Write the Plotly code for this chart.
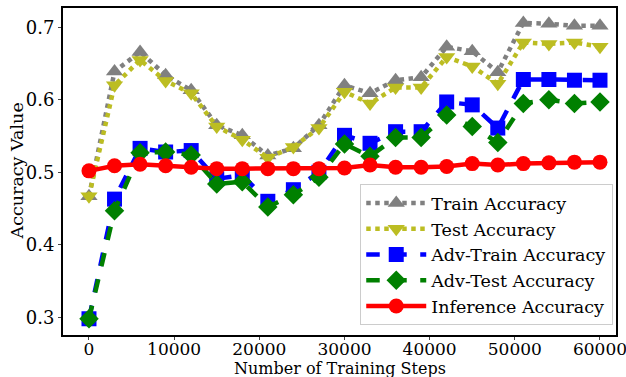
import plotly.graph_objects as go

steps = [0, 3000, 6000, 9000, 12000, 15000, 18000, 21000, 24000, 27000, 30000,
         33000, 36000, 39000, 42000, 45000, 48000, 51000, 54000, 57000, 60000]

train_acc = [0.467, 0.639, 0.666, 0.634, 0.613, 0.565, 0.551, 0.523, 0.533, 0.565, 0.620,
             0.609, 0.627, 0.631, 0.673, 0.667, 0.638, 0.706, 0.705, 0.702, 0.702]
test_acc = [0.467, 0.620, 0.655, 0.626, 0.609, 0.563, 0.545, 0.520, 0.535, 0.561, 0.611,
            0.595, 0.617, 0.617, 0.659, 0.646, 0.622, 0.679, 0.677, 0.679, 0.673]
adv_train_acc = [0.298, 0.463, 0.533, 0.528, 0.530, 0.491, 0.496, 0.460, 0.476, 0.500, 0.551,
                 0.540, 0.556, 0.556, 0.597, 0.593, 0.561, 0.628, 0.628, 0.627, 0.627]
adv_test_acc = [0.298, 0.447, 0.527, 0.528, 0.524, 0.484, 0.487, 0.452, 0.469, 0.493, 0.539,
                0.522, 0.548, 0.548, 0.579, 0.563, 0.541, 0.595, 0.600, 0.595, 0.597]
inference_acc = [0.502, 0.509, 0.511, 0.509, 0.507, 0.505, 0.505, 0.505, 0.505, 0.505, 0.506,
                 0.510, 0.507, 0.507, 0.508, 0.512, 0.510, 0.512, 0.513, 0.514, 0.514]

x_ticks = [0, 10000, 20000, 30000, 40000, 50000, 60000]
y_ticks = [0.3, 0.4, 0.5, 0.6, 0.7]

series = [
    ("Train Accuracy", train_acc, "#808080", "dot", "triangle-up"),
    ("Test Accuracy", test_acc, "#bcbd22", "dot", "triangle-down"),
    ("Adv-Train Accuracy", adv_train_acc, "#0000ff", "dash", "square"),
    ("Adv-Test Accuracy", adv_test_acc, "#008000", "dash", "diamond"),
    ("Inference Accuracy", inference_acc, "#ff0000", "solid", "circle"),
]

fig = go.Figure()
for name, vals, color, dash, sym in series:
    fig.add_trace(go.Scatter(
        x=steps, y=vals, name=name, mode="lines+markers",
        line=dict(color=color, width=4.5, dash=dash),
        marker=dict(color=color, symbol=sym, size=15),
    ))

font = "DejaVu Serif"
fig.update_layout(
    width=626, height=377,
    margin=dict(l=63, r=10, t=8, b=42),
    paper_bgcolor="white", plot_bgcolor="white",
    font=dict(family=font, size=17, color="black"),
    showlegend=True,
    legend=dict(x=0.995, y=0.03, xanchor="right", yanchor="bottom",
                bgcolor="white", bordercolor="#cccccc", borderwidth=1,
                font=dict(family=font, size=17.5), tracegroupgap=0, itemwidth=60),
    xaxis=dict(range=[-3050, 61880], tickvals=x_ticks, ticktext=[str(v) for v in x_ticks],
               showgrid=False, zeroline=False, showline=True, mirror=True,
               linecolor="black", linewidth=2, ticks="outside", ticklen=3,
               tickfont=dict(size=17), automargin=False, ticklabeloverflow="allow",
               ticklabelstandoff=-5),
    yaxis=dict(range=[0.2756, 0.7266], tickvals=y_ticks, ticktext=[str(v) for v in y_ticks],
               showgrid=False, zeroline=False, showline=True, mirror=True,
               linecolor="black", linewidth=2, ticks="outside", ticklen=3,
               tickfont=dict(size=18), automargin=False),
    annotations=[
        dict(text="Number of Training Steps", xref="paper", yref="paper", x=0.5, y=0,
             xanchor="center", yanchor="top", yshift=-22, showarrow=False,
             font=dict(family=font, size=16)),
        dict(text="Accuracy Value", xref="paper", yref="paper", x=0, y=0.5,
             xanchor="right", yanchor="middle", xshift=-35, textangle=-90, showarrow=False,
             font=dict(family=font, size=17.5)),
    ],
)

fig.write_html("out.html")
